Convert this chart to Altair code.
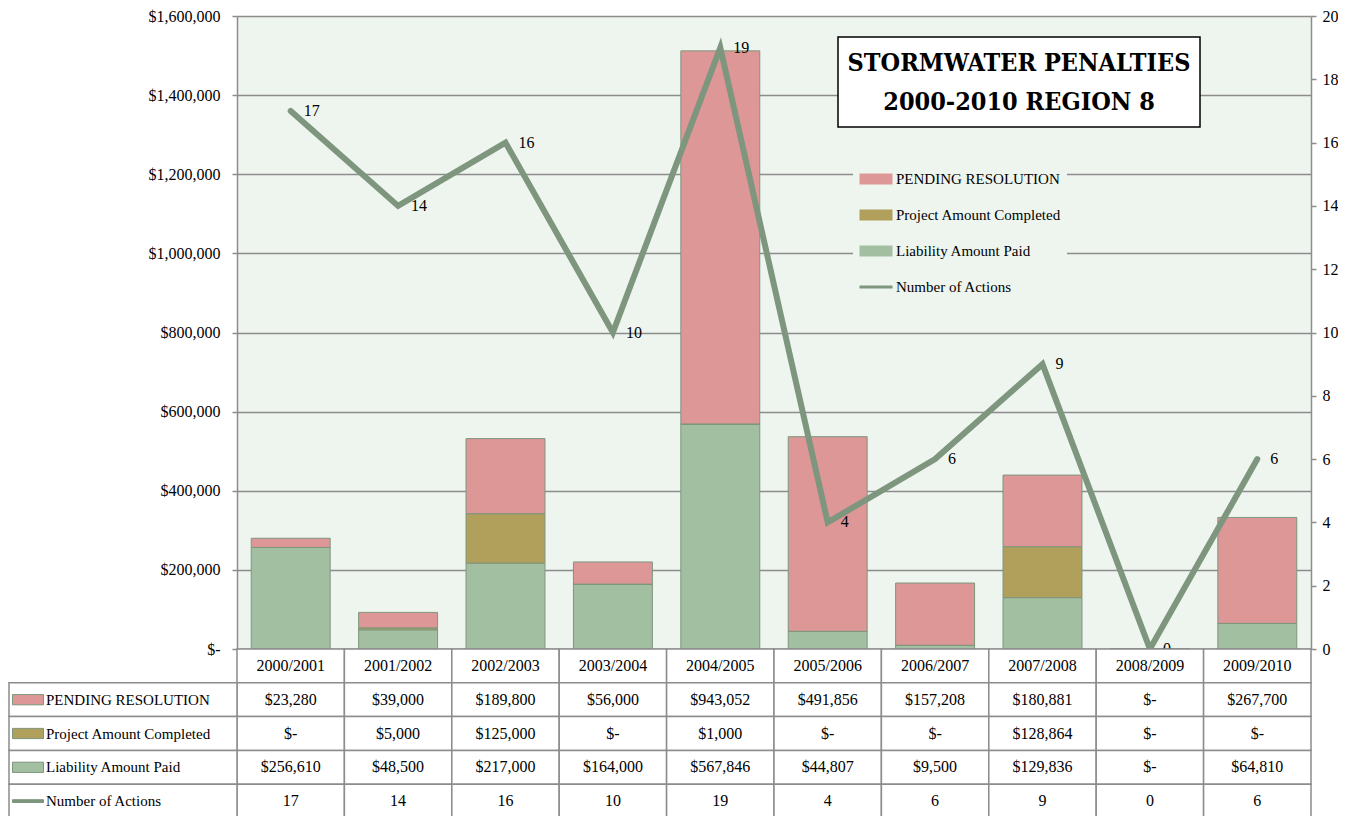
import altair as alt
import pandas as pd

# ---------------- data ----------------
years = ["2000/2001", "2001/2002", "2002/2003", "2003/2004", "2004/2005",
         "2005/2006", "2006/2007", "2007/2008", "2008/2009", "2009/2010"]
pending = [23280, 39000, 189800, 56000, 943052, 491856, 157208, 180881, 0, 267700]
project = [0, 5000, 125000, 0, 1000, 0, 0, 128864, 0, 0]
liability = [256610, 48500, 217000, 164000, 567846, 44807, 9500, 129836, 0, 64810]
actions = [17, 14, 16, 10, 19, 4, 6, 9, 0, 6]

series = ["PENDING RESOLUTION", "Project Amount Completed",
          "Liability Amount Paid", "Number of Actions"]
series_colors = ["#dd9797", "#b0a05c", "#a3bfa2", "#7d967d"]
stack_order = {"Liability Amount Paid": 0, "Project Amount Completed": 1, "PENDING RESOLUTION": 2}
money_ticks = list(range(0, 1600001, 200000))
count_ticks = list(range(0, 21, 2))
title_text = "STORMWATER PENALTIES\n2000-2010 REGION 8"

# ---------------- styling ----------------
FONT = "Liberation Serif"
TITLE_FONT = "DejaVu Serif Condensed, Liberation Serif"
EDGE = "#7d967d"
GRID = "#8c8c8c"
BG = "#eef5ef"
W, H = 1074, 633
TABLE_H = 169
LEFT = 229

rect_path = "M-1,-0.33H1V0.33H-1Z"
line_path = "M-1,-0.09H1V0.09H-1Z"

def money(v):
    return "$-" if v == 0 else "${:,}".format(v)

# ---------------- frames ----------------
bar_rows = []
for i, yr in enumerate(years):
    for name, vals in (("Liability Amount Paid", liability),
                       ("Project Amount Completed", project),
                       ("PENDING RESOLUTION", pending)):
        bar_rows.append({"year": yr, "series": name, "value": vals[i], "order": stack_order[name]})
bars_df = pd.DataFrame(bar_rows)
line_df = pd.DataFrame({"year": years, "actions": actions})

row_order = ["Year"] + series
table_rows = []
for i, yr in enumerate(years):
    table_rows.append({"year": yr, "row": "Year", "text": yr})
    table_rows.append({"year": yr, "row": series[0], "text": money(pending[i])})
    table_rows.append({"year": yr, "row": series[1], "text": money(project[i])})
    table_rows.append({"year": yr, "row": series[2], "text": money(liability[i])})
    table_rows.append({"year": yr, "row": series[3], "text": str(actions[i])})
table_df = pd.DataFrame(table_rows)
label_df = pd.DataFrame({"row": series, "series": series})

color_scale = alt.Scale(domain=series, range=series_colors)
shape_scale = alt.Scale(domain=series, range=[rect_path, rect_path, rect_path, line_path])


def make_legend():
    return alt.Legend(orient="none", legendX=616, legendY=140,
                      title=None, symbolSize=1089, symbolOpacity=1,
                      symbolStrokeColor=EDGE, symbolStrokeWidth=1,
                      labelFont=FONT, labelFontSize=15, labelColor="black",
                      labelLimit=300, labelOffset=3, rowPadding=11, padding=6,
                      fillColor=BG)


# ---------------- plot ----------------
x_plot = alt.X("year:N", sort=years, title=None,
               scale=alt.Scale(paddingInner=0.265, paddingOuter=0.1325),
               axis=alt.Axis(labels=False, ticks=False, domainColor=GRID, domainWidth=1.5))

bars = alt.Chart(bars_df).mark_bar(stroke=EDGE, strokeWidth=1).encode(
    x=x_plot,
    y=alt.Y("value:Q", stack="zero", title=None,
            scale=alt.Scale(domain=[0, 1600000], nice=False),
            axis=alt.Axis(values=money_ticks,
                          labelExpr="datum.value == 0 ? '$-\u00a0\u00a0\u00a0' : '$' + format(datum.value, ',')",
                          labelFont=FONT, labelFontSize=16, labelColor="black",
                          labelPadding=12, tickSize=5, tickColor=GRID, tickWidth=1.5,
                          domainColor=GRID, domainWidth=1.5,
                          gridColor=GRID, gridWidth=1.5,
                          minExtent=LEFT, maxExtent=LEFT)),
    color=alt.Color("series:N", scale=color_scale, legend=make_legend()),
    order=alt.Order("order:Q"),
)

right_axis = alt.Axis(orient="right", values=count_ticks, grid=False,
                      labelFont=FONT, labelFontSize=16, labelColor="black",
                      labelPadding=6, tickSize=5, tickColor=GRID, tickWidth=1.5,
                      domainColor=GRID, domainWidth=1.5)
count_y = alt.Y("actions:Q", title=None, scale=alt.Scale(domain=[0, 20], nice=False),
                axis=right_axis)

line = alt.Chart(line_df).mark_line(color=EDGE, strokeWidth=6, strokeCap="round").encode(
    x=alt.X("year:N", sort=years), y=count_y)
line_labels = alt.Chart(line_df).mark_text(
    align="left", baseline="middle", dx=13, font=FONT, fontSize=16, color="black"
).encode(x=alt.X("year:N", sort=years), y=count_y, text="actions:Q")
line_layer = alt.layer(line, line_labels)

title_df = pd.DataFrame({"t": [title_text]})
title_box = alt.Chart(title_df).mark_rect(fill="white", stroke="black", strokeWidth=1.5).encode(
    x=alt.value(601), x2=alt.value(963), y=alt.value(21), y2=alt.value(111))
title_txt = alt.Chart(title_df).mark_text(
    font=TITLE_FONT, fontSize=25, fontWeight="bold", color="black", lineBreak="\n",
    lineHeight=39, align="center", baseline="middle"
).encode(x=alt.value(782), y=alt.value(47), text="t:N")

plot = alt.layer(bars, line_layer, title_box, title_txt).resolve_scale(
    y="independent").properties(width=W, height=H,
                                view=alt.ViewBackground(fill=BG, stroke=None))

# ---------------- table ----------------
x_tab = alt.X("year:N", sort=years, title=None,
              scale=alt.Scale(paddingInner=0, paddingOuter=0), axis=None)
y_tab = alt.Y("row:N", sort=row_order, title=None, scale=alt.Scale(paddingInner=0, paddingOuter=0),
              axis=None)

cells = alt.Chart(table_df).mark_rect(fill="white", stroke=GRID, strokeWidth=1.5).encode(
    x=x_tab, y=y_tab)
cell_text = alt.Chart(table_df).mark_text(font=FONT, fontSize=16, color="black").encode(
    x=x_tab, y=y_tab, text="text:N")
left_cells = alt.Chart(label_df).mark_rect(fill="white", stroke=GRID, strokeWidth=1.5).encode(
    x=alt.value(-228), x2=alt.value(0), y=y_tab)
swatches = alt.Chart(label_df).mark_point(
    filled=True, size=961, stroke=EDGE, strokeWidth=1, opacity=1
).encode(
    x=alt.value(-209), y=y_tab,
    color=alt.Color("series:N", scale=color_scale, legend=make_legend()),
    shape=alt.Shape("series:N", scale=shape_scale, legend=make_legend()),
)
row_labels = alt.Chart(label_df).mark_text(
    font=FONT, fontSize=15, color="black", align="left", baseline="middle"
).encode(x=alt.value(-191), y=y_tab, text="row:N")

table = alt.layer(cells, cell_text, left_cells, swatches, row_labels).properties(
    width=W, height=TABLE_H)

chart = alt.vconcat(plot, table, spacing=0, bounds="flush").properties(
    padding=0, background="white"
).configure_view(stroke=None)

chart.save("out.html", embed_options={"renderer": "svg", "actions": False})
